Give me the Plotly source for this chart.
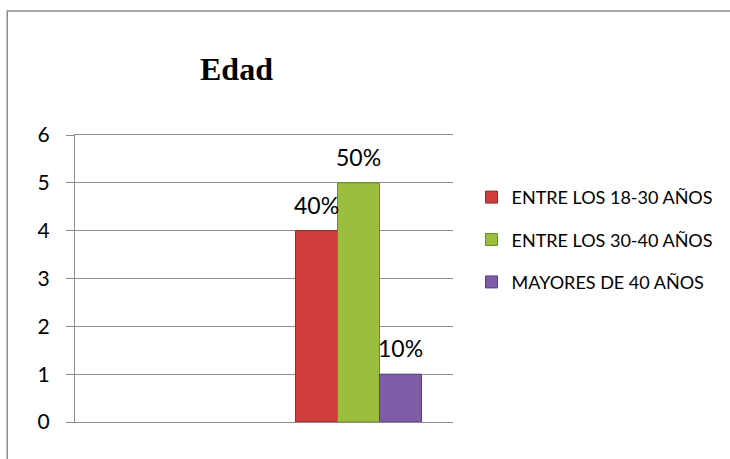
import plotly.graph_objects as go

categories = ["", "Edad"]
series_names = ["ENTRE LOS 18-30 AÑOS", "ENTRE LOS 30-40 AÑOS", "MAYORES DE 40 AÑOS"]
values_18_30 = [None, 4]
values_30_40 = [None, 5]
values_40 = [None, 1]
labels_18_30 = ["", "40%"]
labels_30_40 = ["", "50%"]
labels_40 = ["", "10%"]
y_ticks = [0, 1, 2, 3, 4, 5, 6]

colors = ["#CF3D3D", "#9BBE3D", "#7E5CA8"]
edge = ["#8E2A2A", "#6A8A26", "#56407A"]

FONT = "Lato"
W, H = 730, 459
L, R, T, B = 75, 270, 135, 37
BARGAP = 0.333

all_vals = [values_18_30, values_30_40, values_40]
all_labs = [labels_18_30, labels_30_40, labels_40]

fig = go.Figure()
annotations = []
n = len(series_names)
bw = (1 - BARGAP) / n
for i, (name, vals, labs) in enumerate(zip(series_names, all_vals, all_labs)):
    fig.add_trace(go.Bar(
        x=categories, y=vals, name=name,
        marker=dict(color=colors[i], line=dict(color=edge[i], width=1)),
        legendgroup=str(i),
    ))
    for ci, (v, lab) in enumerate(zip(vals, labs)):
        if v is None or not lab:
            continue
        annotations.append(dict(
            x=ci + (i - (n - 1) / 2) * bw, y=v, xref="x", yref="y",
            text=lab, showarrow=False, xanchor="center", yanchor="middle",
            yshift=26, font=dict(family=FONT, size=23, color="#000000")))

pw = W - L - R
ph = H - T - B
annotations.append(dict(text="<b>Edad</b>", xref="paper", yref="paper",
                        x=(239.5 - L) / pw, y=(H - B - 68.5) / ph,
                        xanchor="center", yanchor="middle", showarrow=False,
                        font=dict(family="Liberation Serif", size=32, color="#000000")))

fig.update_layout(
    width=W, height=H,
    margin=dict(l=L, r=R, t=T, b=B),
    plot_bgcolor="white", paper_bgcolor="white",
    barmode="group", bargap=BARGAP, bargroupgap=0,
    showlegend=True,
    legend=dict(x=1.049, y=0.847, xanchor="left", yanchor="top",
                font=dict(family=FONT, size=18, color="#000000"),
                tracegroupgap=16, traceorder="grouped"),
    xaxis=dict(showticklabels=False, showgrid=False, zeroline=False,
               showline=True, mirror=True, linecolor="#8c8c8c", linewidth=1,
               range=[-0.5, 1.5]),
    yaxis=dict(range=[0, 6], tickvals=y_ticks, showgrid=True,
               gridcolor="#8c8c8c", gridwidth=1, zeroline=False,
               showline=True, linecolor="#8c8c8c", linewidth=1,
               ticks="outside", ticklen=8, tickcolor="#8c8c8c",
               ticklabelstandoff=12,
               tickfont=dict(family=FONT, size=21, color="#000000")),
    font=dict(family=FONT),
    annotations=annotations,
    shapes=[dict(type="rect", xref="paper", yref="paper",
                 x0=(6 - L) / pw, x1=2.0, y0=-1.0, y1=(H - B - 11) / ph,
                 line=dict(color="#8c8c8c", width=1.5), fillcolor="rgba(0,0,0,0)",
                 layer="below")],
)

fig.write_html("out.html", config={"displayModeBar": False},
               post_script="document.body.style.margin='0px';")
